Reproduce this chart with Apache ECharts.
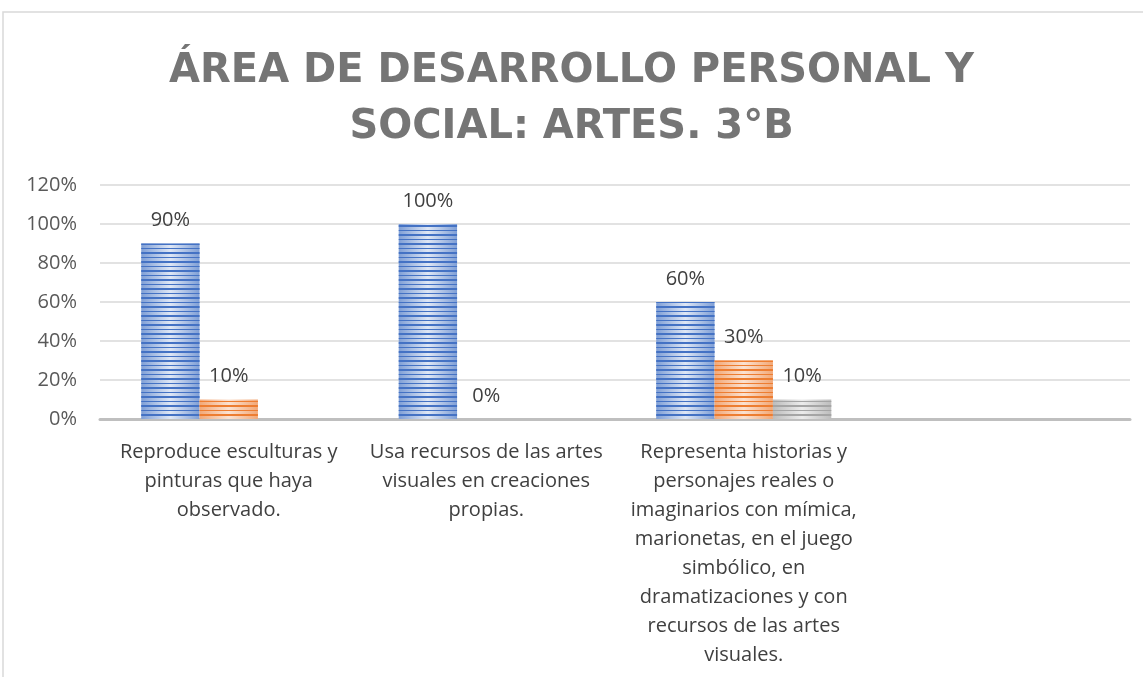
<!DOCTYPE html>
<html><head><meta charset="utf-8">
<script src="https://cdn.jsdelivr.net/npm/echarts@6/dist/echarts.min.js"></script>
<style>html,body{margin:0;padding:0;background:#fff}#c{width:1143px;height:677px}</style>
</head><body><div id="c"></div>
<script>
const titleText = 'ÁREA DE DESARROLLO PERSONAL Y\nSOCIAL: ARTES. 3°B';
const categories = [
  'Reproduce esculturas y\npinturas que haya\nobservado.',
  'Usa recursos de las artes\nvisuales en creaciones\npropias.',
  'Representa historias y\npersonajes reales o\nimaginarios con mímica,\nmarionetas, en el juego\nsimbólico, en\ndramatizaciones y con\nrecursos de las artes\nvisuales.',
  ''
];
const series1 = [90, 100, 60, null];
const series2 = [10, 0, 30, null];
const series3 = [null, null, 10, null];
const yTicks = [0, 20, 40, 60, 80, 100, 120];

const FONT = 'Open Sans';
function barStyle(edge, center, stripe) {
  return {
    color: {type: 'linear', x: 0, y: 0, x2: 1, y2: 0, colorStops: [
      {offset: 0, color: edge}, {offset: 0.5, color: center}, {offset: 1, color: edge}]},
    decal: {symbol: 'rect', symbolSize: 1, color: stripe, dashArrayX: [1, 0], dashArrayY: [2, 3, 1, 3], rotation: 0}
  };
}
const label = {show: true, position: 'top', distance: 13, color: '#404040', fontSize: 20, fontFamily: FONT,
  formatter: p => p.value == null ? '' : p.value + '%'};

const chart = echarts.init(document.getElementById('c'));
chart.setOption({
  animation: false,
  aria: {enabled: true, decal: {show: true}, label: {enabled: false}},
  title: {text: titleText, left: 'center', top: 39,
    textStyle: {fontFamily: 'DejaVu Sans', fontWeight: 'bold', fontSize: 40, color: '#757575', lineHeight: 56}},
  graphic: [{type: 'rect', shape: {x: 3, y: 12, width: 1300, height: 800}, style: {fill: 'none', stroke: '#d9d9d9', lineWidth: 1.5}, silent: true}],
  grid: {left: 100, right: 13, top: 185, bottom: 258, containLabel: false},
  xAxis: {type: 'category', data: categories,
    axisLine: {lineStyle: {color: '#bfbfbf', width: 3}}, axisTick: {show: false},
    axisLabel: {interval: 0, color: '#404040', fontSize: 20, fontFamily: FONT, lineHeight: 29, margin: 19, align: 'center'}},
  yAxis: {type: 'value', min: 0, max: 120, interval: 20,
    axisLine: {show: false}, axisTick: {show: false},
    splitLine: {lineStyle: {color: '#d9d9d9', width: 1.5}},
    axisLabel: {color: '#595959', fontSize: 20, fontFamily: FONT, margin: 23,
      formatter: v => yTicks.includes(v) ? v + '%' : ''}},
  series: [
    {type: 'bar', data: series1, barGap: '0%', barCategoryGap: '32%', label: label,
      itemStyle: barStyle('#7f9fd6', '#dfe7f5', '#4472c4')},
    {type: 'bar', data: series2, label: label,
      itemStyle: barStyle('#f2a877', '#fbe2d2', '#ed7d31')},
    {type: 'bar', data: series3, label: label,
      itemStyle: barStyle('#bdbdbd', '#ececec', '#a5a5a5')}
  ]
});
</script></body></html>
